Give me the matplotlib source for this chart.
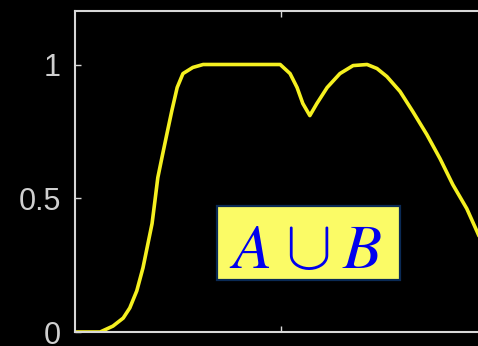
import matplotlib
matplotlib.use("Agg")
from matplotlib import pyplot as plt
from matplotlib.patches import Rectangle

# curve
x = [0.0, 0.061, 0.092, 0.117, 0.133, 0.150, 0.165, 0.177, 0.187, 0.194, 0.201, 0.211,
     0.223, 0.235, 0.248, 0.262, 0.286, 0.311, 0.498, 0.522, 0.539, 0.553, 0.570, 0.587,
     0.612, 0.643, 0.675, 0.709, 0.733, 0.757, 0.789, 0.820, 0.854, 0.886, 0.917, 0.951,
     0.976, 1.0]
y = [0.0, 0.0, 0.022, 0.052, 0.09, 0.154, 0.24, 0.33, 0.405, 0.49, 0.577, 0.652,
     0.74, 0.827, 0.914, 0.966, 0.989, 1.0, 1.0, 0.966, 0.914, 0.854, 0.809, 0.854,
     0.914, 0.966, 0.996, 1.0, 0.985, 0.955, 0.899, 0.824, 0.738, 0.648, 0.551, 0.461,
     0.375, 0.29]
yticks = [0, 0.5, 1]
ylabels = ['0', '0.5', '1']
xticks = [0.5]

plt.rcParams['mathtext.fontset'] = 'stix'

fig = plt.figure(figsize=(4.78, 3.46), dpi=100)
fig.patch.set_facecolor('black')
ax = fig.add_axes([75/478, 14/346, 412/478, 321/346])
ax.set_facecolor('black')

ax.plot(x, y, color='#f5f020', lw=2.6, solid_capstyle='round', solid_joinstyle='round')

ax.set_xlim(0, 1)
ax.set_ylim(0, 1.2)
ax.set_yticks(yticks)
ax.set_yticklabels(ylabels, fontsize=22, color='#cfcfcf', family='Liberation Sans')
ax.set_xticks(xticks)
ax.set_xticklabels([])
ax.tick_params(direction='in', length=4, color='#d8d8d8', width=1,
               top=True, right=True, pad=10)
for s in ax.spines.values():
    s.set_color('#d8d8d8')
    s.set_linewidth(1.5)

# label box: A  cup  B
ax.add_patch(Rectangle((0.345, 0.162), 0.444, 0.231, transform=ax.transAxes,
                       fc='#fbfb66', ec='#0a2a55', lw=1.6, zorder=3))
ax.text(0.424, 0.199, r'$A$', transform=ax.transAxes, fontsize=46,
        color='#0000ee', ha='center', va='baseline', zorder=4)
ax.text(0.563, 0.199, r'$\cup$', transform=ax.transAxes, fontsize=50,
        color='#0000ee', ha='center', va='baseline', zorder=4, math_fontfamily='cm')
ax.text(0.697, 0.199, r'$B$', transform=ax.transAxes, fontsize=46,
        color='#0000ee', ha='center', va='baseline', zorder=4)

fig.savefig('out.png', dpi=100, facecolor='black')
